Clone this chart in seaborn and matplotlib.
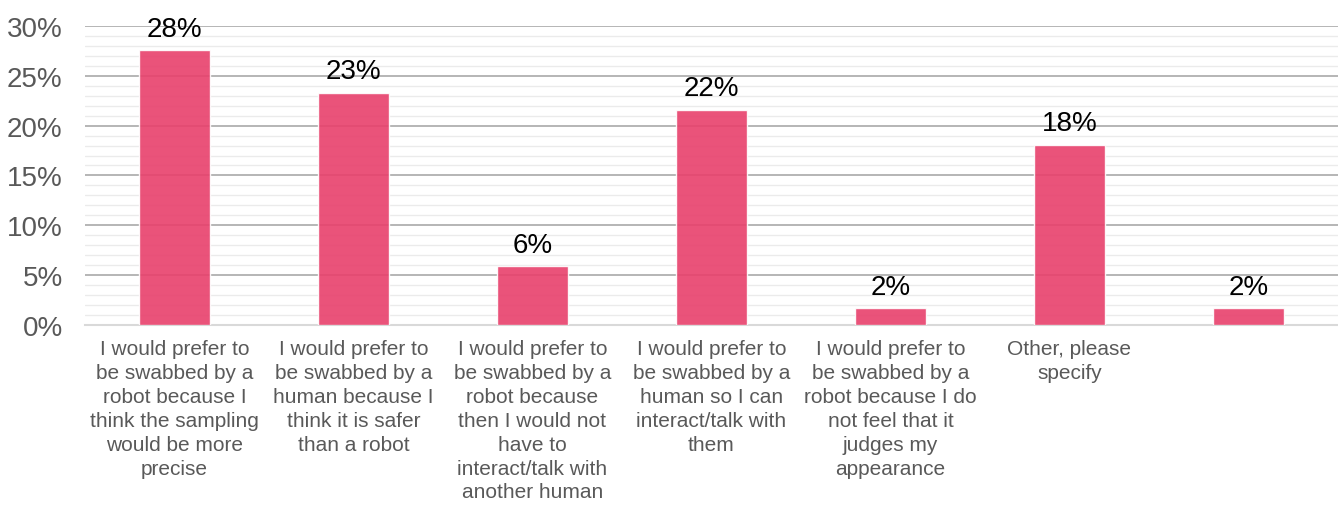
import matplotlib
matplotlib.use('Agg')
import matplotlib.pyplot as plt
from matplotlib.ticker import MultipleLocator, FuncFormatter
import seaborn as sns
import pandas as pd

# answers and share of respondents (%)
answers = [
    "I would prefer to\nbe swabbed by a\nrobot because I\nthink the sampling\nwould be more\nprecise",
    "I would prefer to\nbe swabbed by a\nhuman because I\nthink it is safer\nthan a robot",
    "I would prefer to\nbe swabbed by a\nrobot because\nthen I would not\nhave to\ninteract/talk with\nanother human",
    "I would prefer to\nbe swabbed by a\nhuman so I can\ninteract/talk with\nthem",
    "I would prefer to\nbe swabbed by a\nrobot because I do\nnot feel that it\njudges my\nappearance",
    "Other, please\nspecify",
    "",
]
shares = [27.6, 23.3, 5.9, 21.6, 1.7, 18.1, 1.7]

sns.set_style("white")
plt.rcParams['font.family'] = ['Liberation Sans', 'DejaVu Sans']

df = pd.DataFrame({'pos': range(len(shares)), 'share': shares})

fig = plt.figure(figsize=(13.38, 5.06), dpi=100)
ax = fig.add_axes([0.0635, 0.356, 0.9365, 0.5906])

sns.barplot(data=df, x='pos', y='share', color='#E8406C', alpha=0.9,
            width=0.4, ax=ax, zorder=3, saturation=1)

ax.set_ylim(0, 30)
ax.set_xlim(-0.5, len(shares) - 0.5)
ax.yaxis.set_major_locator(MultipleLocator(5))
ax.yaxis.set_minor_locator(MultipleLocator(1))
ax.yaxis.set_major_formatter(FuncFormatter(lambda v, p: f"{v:.0f}%"))
ax.grid(axis='y', which='major', color='#B0B0B0', linewidth=1.3, zorder=1)
ax.grid(axis='y', which='minor', color='#EBEBEB', linewidth=1.0, zorder=0)
ax.set_axisbelow(True)

for s in ['top', 'right', 'left']:
    ax.spines[s].set_visible(False)
ax.spines['bottom'].set_color('#D9D9D9')
ax.spines['bottom'].set_linewidth(1.5)

ax.set_xticks(range(len(answers)))
ax.set_xticklabels(answers, fontsize=15, color='#595959', linespacing=1.33)
ax.tick_params(axis='x', length=0, pad=10)
ax.tick_params(axis='y', which='both', length=0, labelsize=20,
               labelcolor='#595959', pad=16)
ax.set_xlabel('')
ax.set_ylabel('')

ax.bar_label(ax.containers[0], labels=[f"{round(v)}%" for v in shares],
             padding=6, fontsize=20, color='black')

fig.savefig('out.png', dpi=100)
